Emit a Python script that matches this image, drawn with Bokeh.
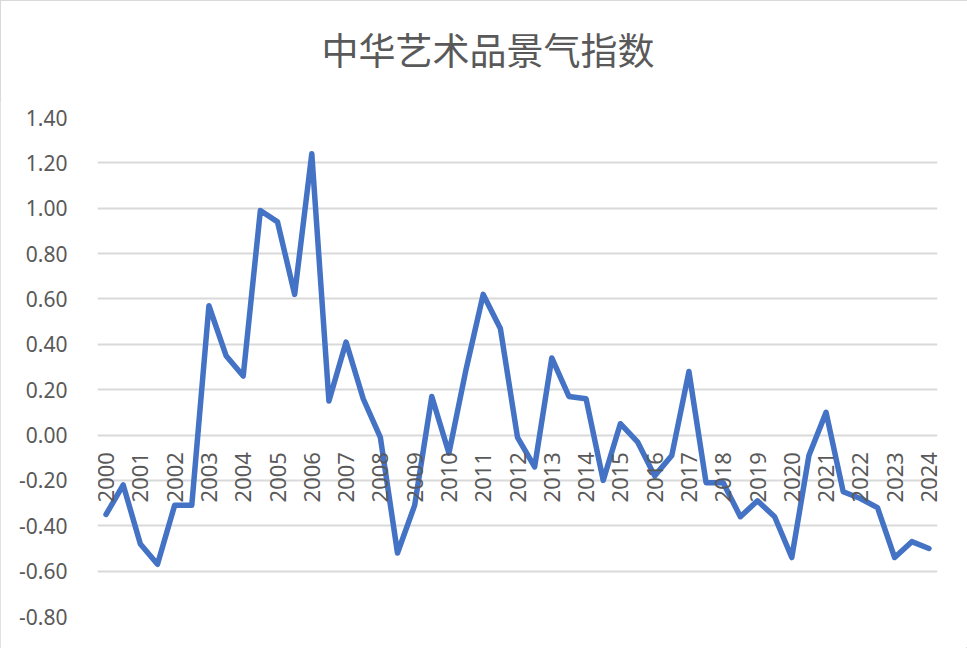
import math
from bokeh.plotting import figure
from bokeh.layouts import column
from bokeh.models import FactorRange, Range1d, FixedTicker, Div, ColumnDataSource, CustomJSTickFormatter
from bokeh.core.properties import value
from bokeh.embed import file_html
from bokeh.resources import INLINE

# ---- data ----
title_text = "中华艺术品景气指数"
years = [str(y) for y in range(2000, 2025)]
halves = ["H1", "H2"]
periods = [f"{y}{h}" for y in years for h in halves][:49]  # 2000H1 .. 2024H1
index_values = [-0.35, -0.22, -0.48, -0.57, -0.31, -0.31, 0.57, 0.35, 0.26, 0.99,
                0.94, 0.62, 1.24, 0.15, 0.41, 0.16, -0.01, -0.52, -0.31, 0.17,
                -0.08, 0.29, 0.62, 0.47, -0.01, -0.14, 0.34, 0.17, 0.16, -0.20,
                0.05, -0.03, -0.18, -0.09, 0.28, -0.21, -0.21, -0.36, -0.29, -0.36,
                -0.54, -0.09, 0.10, -0.25, -0.28, -0.32, -0.54, -0.47, -0.50]
y_ticks = [-0.8, -0.6, -0.4, -0.2, 0.0, 0.2, 0.4, 0.6, 0.8, 1.0, 1.2, 1.4]
label_periods = [f"{y}H1" for y in years]

TEXT = "#595959"
GRID = "#d9d9d9"
LINE = "#4472C4"

W = 966
TITLE_H = 91

header = Div(text=title_text, width=W, height=TITLE_H,
             styles={"font-family": "'Noto Sans CJK SC'", "font-size": "37px",
                     "color": TEXT, "text-align": "center", "line-height": "88px",
                     "background-color": "white"})

p = figure(width=W, height=547, output_backend="svg", toolbar_location=None,
           x_range=FactorRange(*periods, range_padding=0),
           y_range=Range1d(-0.8, 1.4),
           min_border_left=97, min_border_right=29, min_border_top=16, min_border_bottom=32)
p.background_fill_color = "white"
p.border_fill_color = "white"
p.outline_line_color = None

p.xaxis.visible = False
p.xgrid.visible = False
p.yaxis.ticker = FixedTicker(ticks=y_ticks)
p.yaxis.axis_line_color = None
p.yaxis.major_tick_line_color = None
p.yaxis.minor_tick_line_color = None
p.yaxis.major_label_standoff = 24
p.yaxis.major_label_text_font = "Noto Sans"
p.yaxis.major_label_text_font_size = "21px"
p.yaxis.major_label_text_color = TEXT
p.yaxis.formatter = CustomJSTickFormatter(code="return tick.toFixed(2);")
p.ygrid.grid_line_color = GRID
p.ygrid.grid_line_width = 2

src = ColumnDataSource(dict(x=periods, y=index_values))
p.line("x", "y", source=src, line_color=LINE, line_width=5.5, line_join="round", line_cap="round")

lab = ColumnDataSource(dict(x=label_periods, y=[0.0] * len(label_periods), t=years))
p.text("x", "y", text="t", source=lab, angle=math.pi / 2, text_align="right",
       text_baseline="middle", y_offset=17, text_font=value("Noto Sans"),
       text_font_size="22px", text_color=TEXT)

layout = column(header, p, spacing=0,
                styles={"outline": "1px solid #d9d9d9", "outline-offset": "-1px",
                        "background-color": "white"})

open("out.html", "w").write(file_html(layout, INLINE))
